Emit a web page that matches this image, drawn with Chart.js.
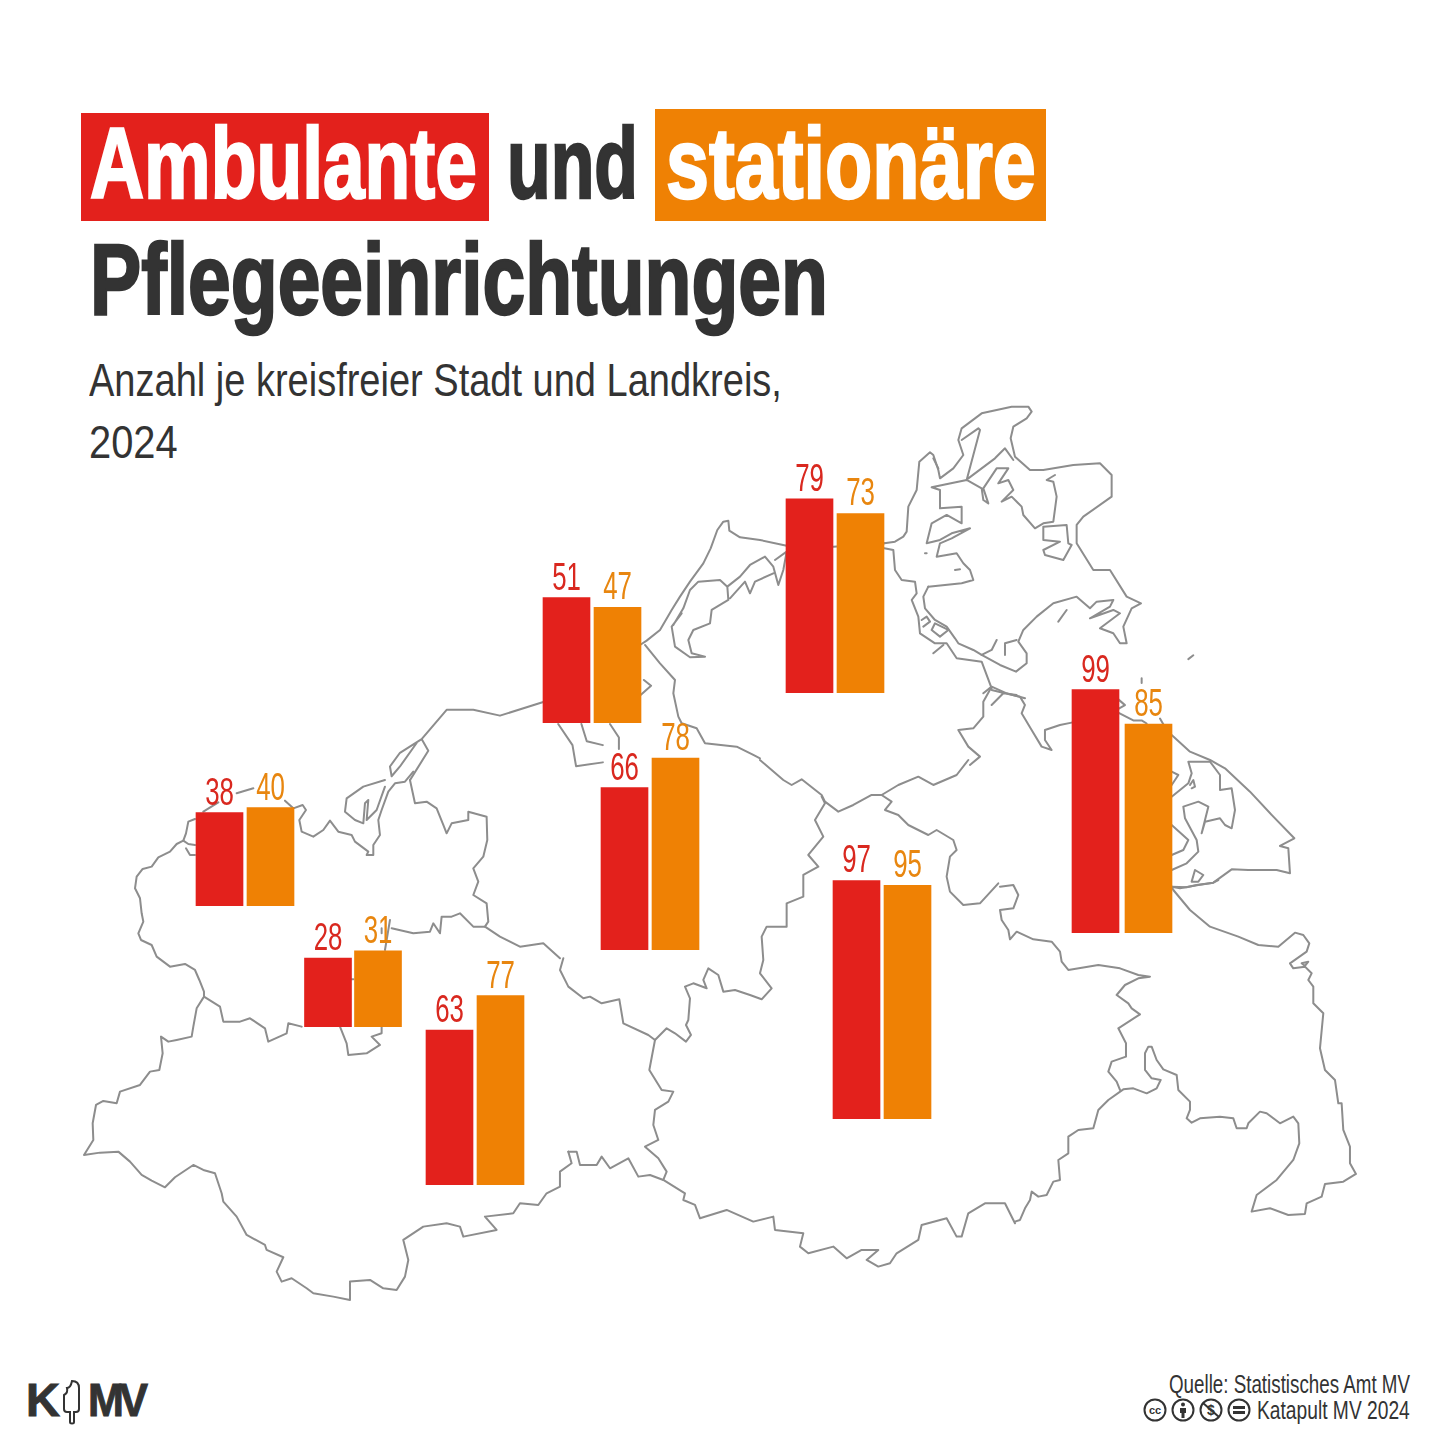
<!DOCTYPE html>
<html lang="de">
<head>
<meta charset="utf-8">
<title>Ambulante und stationäre Pflegeeinrichtungen</title>
<script src="https://cdn.jsdelivr.net/npm/chart.js@4"></script>
<style>
  html, body { margin: 0; background: #fff; }
  #page { position: relative; width: 1440px; height: 1440px; overflow: hidden; }
  #map { position: absolute; left: 0; top: 0; }
  #map path { fill: none; stroke: #8d8d8d; stroke-width: 2; stroke-linejoin: round; stroke-linecap: round; vector-effect: non-scaling-stroke; }
  canvas { position: absolute; }
  .txt { position: absolute; white-space: nowrap; color: #333; font-family: "Liberation Sans", sans-serif; transform-origin: 0 0; line-height: 1; }
  .head { font-weight: 700; font-size: 101px; -webkit-text-stroke: 2.5px currentColor; }
  .sub { font-size: 47px; }
  .foot { font-size: 25px; }
  .box { position: absolute; }
</style>
</head>
<body>
<div id="page">
  <svg id="map" width="1440" height="1440" viewBox="0 0 1440 1440">
    <!-- Fischland-Darss, Kreisgrenze nach Süden -->
    <g transform="translate(640,400) scale(0.3333)">
      <path d="M0,735 L20,722 60,690 95,630 120,590 150,545 190,490 212,445 232,390 250,365 265,362 268,392 300,412 360,420 440,437 580,440 733,430"/>
      <path d="M100,675 L130,625 150,570 175,545 240,540 262,560 265,600 215,630 210,670 160,690 145,720 155,760 195,770 150,772 105,740 95,680 125,640 M262,560 L300,530 330,495 375,470 400,500 415,555 430,510 440,455 405,480 M270,595 L315,545 330,580 345,545 400,520"/>
      <path d="M15,735 L60,790 105,840 100,880 115,950 125,970 170,985 195,1030 290,1040 340,1065 360,1075"/>
      <path d="M1053,864 L1030,905 1030,950 1000,985 955,990 985,1040 1020,1070 990,1095"/>
      <path d="M1055,870 L1095,880 1140,890 1155,915 1145,940 1175,990 1205,1040 1235,1050 1215,1020 1215,990 1260,975 1295,968 M1055,915 L1090,880 1130,885"/>
    </g>
    <!-- Rügen, Stralsund, Greifswald -->
    <g transform="translate(880,400) scale(0.3333)">
      <path d="M13,430 L45,425 70,410 80,395 85,320 110,270 118,185 150,157 160,165 175,210 180,235 220,205 250,165 235,120 245,85 305,40 395,20 445,20 455,35 440,55 400,80 392,115 405,170 450,210 490,210 580,195 660,190 695,225 695,290 610,350 590,375 590,430 640,510 690,510 740,590 783,610 755,625 730,680 740,730 720,730 700,700 660,685 720,640 700,630 630,655 690,620 700,600 650,605 630,625 590,590 520,610 470,650 430,690 415,725 440,760 440,790 408,815 360,795 305,765 280,750 235,730 225,715 200,680 165,660 135,625 130,590 145,560"/>
      <path d="M13,445 L40,450 45,510 65,540 105,545 110,580 95,600 115,650 120,700 165,730 200,730 230,775 305,785 335,865"/>
      <path d="M125,660 L140,650 150,665 130,680 M155,690 L165,670 205,690 180,710 155,690 M160,760 L190,735 M310,880 L335,860 380,880 435,895"/>
      <path d="M145,560 L245,550 280,540 270,510 250,490 230,460 170,470 180,430 215,415 270,385 215,400 180,420 140,430 155,370 200,345 245,370 245,320 180,325 180,270 155,262 260,240 305,265 310,300 325,310 310,265 350,205 385,205 355,250 385,240 400,270 365,305 395,290 425,320 430,345 465,385 490,370 520,365 530,290 520,245 500,240 525,225"/>
      <path d="M260,240 L300,90 295,85 245,120 M400,180 L375,145 345,175 265,235"/>
      <path d="M490,380 L560,375 565,430 575,435 550,480 495,465 490,450 540,425 490,420 490,380 M135,460 L140,460 M225,510 L240,508 M535,665 L560,630 M305,765 L335,750 350,720 M375,765 L375,730 410,720 M160,175 L175,205"/>
    </g>
    <!-- Usedom -->
    <g transform="translate(1160,700) scale(0.3333)">
      <path d="M35,105 L90,155 150,180 195,205 270,275 340,350 403,415 360,438 385,445 390,520 350,510 265,510 215,508 160,548 115,555 60,565 35,560"/>
      <path d="M150,185 L85,185 95,220 85,250 35,290 M150,185 L180,225 180,270 215,265 225,330 215,385 195,375 180,355 135,365 125,400 145,320 115,305 70,320 75,355 110,420 115,455 80,490 35,510"/>
      <path d="M35,375 L85,420 70,450 35,465 M105,510 L130,525 115,545 95,545 105,510 M35,215 L55,225 35,255 M90,255 L100,240 105,260 95,265"/>
    </g>
    <g transform="translate(960,640) scale(0.3333,0.3831)">
      <path d="M685,50 L700,40 M545,100 L545,112 M475,155 L495,170 475,180 M476,190 L520,210 545,210 560,218 M600,205 L620,235"/>
    </g>
    <!-- Osten, Stettiner Haff -->
    <g transform="translate(1000,880) scale(0.3333)">
      <path d="M45,1025 L60,1020 75,985 90,960 95,935 115,950 140,945 160,905 180,900 175,840 205,820 205,770 235,750 280,745 295,690 325,660 370,628 400,625 440,640 470,625 482,600 455,595 435,570 435,520 445,500 455,500 470,540 490,568 530,585 535,630 570,665 570,690 560,715 575,728 600,715 660,710 700,715 710,745 740,745 745,730 780,695 800,700 840,730 880,710 895,730 898,790 880,840 830,900 770,945 755,995 810,985 865,1005 915,1002 920,970 965,950 975,912 1030,905 1068,882 1050,850 1050,800 1030,750 1025,670 1015,670 1005,600 975,570 960,505 970,400 940,370 940,320 925,300 935,280 915,260 880,265 870,250 920,215 928,190 910,165 885,158 835,200 775,195 715,170 630,140 570,90 520,30 515,20 560,22 590,15 640,8 655,0"/>
      <path d="M905,250 L925,245 915,258 905,250"/>
      <path d="M0,20 L40,15 55,45 40,85 0,90 5,120 25,150 30,178 50,155 100,178 155,185 180,215 185,245 205,270 295,255 360,265 415,285 450,290 415,295 375,315 350,345 385,370 395,385 420,403 355,445 378,490 378,530 335,545 325,575 350,605 360,630"/>
    </g>
    <!-- Mitte, Seenplatte -->
    <g transform="translate(560,760) scale(0.3333)">
      <path d="M600,0 L670,60 695,75 725,58 785,105 795,125 835,155 880,135 935,105 965,105 1015,75 1075,50 1120,75 1190,45 1225,0"/>
      <path d="M965,105 L995,125 975,150 1015,165 1045,195 1105,225 1130,210 1180,240 1190,270 1170,290 1160,350 1170,395 1210,435 1260,430 1315,370"/>
      <path d="M785,110 L795,130 765,180 790,230 745,285 775,320 730,345 730,410 680,430 680,500 620,500 605,530 610,600 600,640 635,685 605,718 570,705 525,690 490,695 475,645 445,625 430,660 440,685 400,670 375,680 390,715 385,780 378,795 393,825 378,845 345,820 320,805 285,840 265,825 190,790 178,718 125,730 90,710 70,715 25,680 0,630 10,595"/>
      <path d="M285,840 L268,930 305,990 340,995 325,1025 285,1050 280,1095 295,1140 255,1160 295,1195 320,1235 310,1260"/>
      <path d="M25,1175 L50,1175 60,1215 110,1215 125,1190 150,1225 205,1195 235,1250 270,1245 310,1260 375,1300 370,1320 405,1335 420,1375 500,1350 580,1385 640,1370 645,1410 730,1420 720,1460 745,1480 820,1460 860,1495 905,1470 955,1470 920,1500 955,1520 990,1510 1010,1480 1075,1440 1085,1395 1160,1375 1190,1430 1205,1430 1225,1360 1275,1330 1335,1330 1365,1390"/>
    </g>
    <g transform="translate(460,680) scale(0.3571,0.3831)">
      <path d="M275,115 L315,170 325,225 400,215 M340,115 L355,160 400,170 M420,115 L445,150 445,180 M505,40 L535,15 515,0"/>
    </g>
    <!-- Westen -->
    <g transform="translate(70,700) scale(0.3333,0.3910)">
      <path d="M1500,10 L1420,5 1290,40 1210,25 1130,25 1055,100 1075,130 1020,205 M1055,100 L990,135 960,170 965,195 990,170 1040,110"/>
    </g>
    <g transform="translate(80,770) scale(0.3333)">
      <path d="M345,147 L325,155 318,190 310,212 290,222 270,245 235,262 215,290 188,297 170,320 165,355 180,385 185,430 190,455 175,490 183,510 215,525 230,560 270,590 315,582 345,600 358,630 372,665 372,680 350,715 340,770 335,800 290,810 265,815 243,800 248,850 238,900 210,905 180,945 120,965 110,1000 70,993 48,1005 38,1060 40,1110 12,1155 60,1148 115,1145 150,1175 185,1215 215,1232 255,1252 285,1222 340,1185 370,1200 405,1210 425,1270 430,1295 470,1340 500,1395 555,1425 560,1440 610,1462 590,1505 605,1535 635,1525 680,1555 700,1570 760,1580 810,1590 810,1535 870,1530 910,1555 950,1560 975,1520 985,1470 970,1410 1030,1370 1100,1360 1140,1370 1150,1400 1250,1380 1215,1340 1300,1330 1320,1300 1375,1305 1400,1270 1440,1250 1440,1205 1475,1180 1465,1145"/>
      <path d="M310,212 L325,222 345,225 M318,235 L330,255 345,255"/>
      <path d="M915,30 L850,50 800,85 795,125 825,150 850,160 855,100 865,90 860,150 890,120 915,50"/>
      <path d="M640,115 L668,105 678,120 658,150 665,185 700,200 730,180 750,152 775,185 815,195 825,215 865,245 860,255 880,255 880,225 900,195 895,150 905,120 925,65 945,40 975,35 1000,5"/>
      <path d="M370,125 L415,97 M470,70 L520,55 M615,92 L640,115"/>
      <path d="M990,30 L1005,100 1040,95 1070,115 1090,165 1100,190 1115,160 1165,150 1165,125 1220,140 1222,210 1210,260 1180,295 1195,335 1180,375 1220,400 1225,455 1215,470 1260,500 1320,530 1390,520 1440,565"/>
      <path d="M372,680 L420,710 430,755 480,755 510,745 555,775 565,815 620,790 625,760 665,770 M780,770 L800,820 805,855 860,850 900,825 875,800 905,790 905,770"/>
      <path d="M935,475 L1000,490 1050,485 1060,460 1080,490 1085,440 1115,440 1140,430 1180,470 1215,470 M915,540 L930,450 M905,475 L905,490 M810,628 L820,628"/>
    </g>
  </svg>

  <div class="box" style="left:81px;top:113px;width:408px;height:108px;background:#e3211c"></div>
  <div class="box" style="left:655px;top:109px;width:391px;height:112px;background:#ef8104"></div>
  <div class="txt head" id="t1" style="left:90px;top:113px;color:#fff">Ambulante</div>
  <div class="txt head" id="t2" style="left:507px;top:113px">und</div>
  <div class="txt head" id="t3" style="left:666px;top:113px;color:#fff">stationäre</div>
  <div class="txt head" id="t4" style="left:90px;top:229px">Pflegeeinrichtungen</div>
  <div class="txt sub" id="s1" style="left:89px;top:356px">Anzahl je kreisfreier Stadt und Landkreis,</div>
  <div class="txt sub" id="s2" style="left:89px;top:418px">2024</div>

  <div class="txt" style="left:26px;top:1376px;font-weight:700;font-size:47px;-webkit-text-stroke:1px #333">K</div>
  <div class="txt" id="logoMv" style="left:88px;top:1376px;font-weight:700;font-size:47px;letter-spacing:-5px;-webkit-text-stroke:1px #333">MV</div>
  <svg class="box" style="left:60px;top:1378px" width="24" height="48" viewBox="0 0 24 48">
    <path d="M12,3 C16,3 19,5 19,10 L19,31 C19,33 18,34 16,34 L14,34 L14,44 C14,46 10,46 10,44 L10,34 L7,34 C5,34 4,33 4,31 L4,17 C6,16 8,14 7,10 C9,10 11,8 12,3 Z" fill="#fff" stroke="#333" stroke-width="2"/>
  </svg>

  <div class="txt foot" id="f1" style="left:1169px;top:1372px">Quelle: Statistisches Amt MV</div>
  <div class="txt foot" id="f2" style="left:1257px;top:1398px">Katapult MV 2024</div>
  <svg class="box" style="left:1142px;top:1398px" width="110" height="24" viewBox="0 0 110 24" fill="none" stroke="#333" stroke-width="2">
    <circle cx="13" cy="12" r="10.5"/><circle cx="41" cy="12" r="10.5"/><circle cx="69" cy="12" r="10.5"/><circle cx="97" cy="12" r="10.5"/>
    <text x="13" y="16" font-family="Liberation Sans" font-weight="700" font-size="11" text-anchor="middle" fill="#333" stroke="none">cc</text>
    <circle cx="41" cy="6.5" r="2" fill="#333" stroke="none"/><path d="M38,10 h6 v5 h-1.5 v5 h-3 v-5 h-1.5 z" fill="#333" stroke="none"/>
    <text x="69" y="17" font-family="Liberation Sans" font-weight="700" font-size="14" text-anchor="middle" fill="#333" stroke="none">$</text><path d="M61,5 L77,19"/>
    <path d="M91,9.5 h12 M91,14.5 h12" stroke-width="3"/>
  </svg>
</div>

<script>
// Werte je Kreis, Reihenfolge wie in districts
const districts = ['Nordwestmecklenburg', 'Schwerin', 'Ludwigslust-Parchim', 'Rostock', 'Landkreis Rostock', 'Vorpommern-Rügen', 'Mecklenburgische Seenplatte', 'Vorpommern-Greifswald'];
const seriesNames = ['Ambulant', 'Stationär'];
const ambulant = [38, 28, 63, 51, 66, 79, 97, 99];
const stationaer = [40, 31, 77, 47, 78, 73, 95, 85];

// where each small chart sits on the map
const chartLeft = [196, 304, 426, 543, 601, 786, 833, 1072];
const chartBottom = [906, 1027, 1185, 723, 950, 693, 1119, 933];
const chartPitch = [51, 50, 51, 51, 51, 51, 51, 53];

const barWidth = 47;
const chartHeight = 300;
const yMax = 122;
const colors = ['#e3211c', '#ef8104'];
const labelColors = ['#d9281f', '#e8860f'];

// value above each bar, condensed like the rest of the type
const valueLabels = {
  id: 'valueLabels',
  afterDatasetsDraw(chart) {
    const ctx = chart.ctx;
    const bars = chart.getDatasetMeta(0).data;
    bars.forEach((bar, i) => {
      ctx.save();
      ctx.translate(bar.x, bar.y - 8);
      ctx.scale(0.68, 1);
      ctx.font = '38px "Liberation Sans"';
      ctx.textAlign = 'center';
      ctx.textBaseline = 'alphabetic';
      ctx.fillStyle = labelColors[i];
      ctx.fillText(chart.data.datasets[0].data[i], 0, 0);
      ctx.restore();
    });
  }
};

districts.forEach((name, i) => {
  const pitch = chartPitch[i];
  const canvas = document.createElement('canvas');
  canvas.width = pitch * 2;
  canvas.height = chartHeight;
  canvas.style.left = (chartLeft[i] - (pitch - barWidth) / 2) + 'px';
  canvas.style.top = (chartBottom[i] - chartHeight) + 'px';
  canvas.setAttribute('aria-label', name);
  document.getElementById('page').appendChild(canvas);

  new Chart(canvas, {
    type: 'bar',
    data: {
      labels: seriesNames,
      datasets: [{
        label: name,
        data: [ambulant[i], stationaer[i]],
        backgroundColor: colors,
        barThickness: barWidth
      }]
    },
    options: {
      responsive: false,
      animation: false,
      layout: { padding: 0 },
      plugins: { legend: { display: false }, tooltip: { enabled: false } },
      scales: {
        x: { display: false },
        y: { display: false, min: 0, max: yMax }
      }
    },
    plugins: [valueLabels]
  });
});

// squeeze each text to the width it has in the original
const fit = { t1: 387, t2: 131, t3: 370, t4: 738, s1: 693, s2: 89, f1: 241, f2: 153, logoMv: 56 };
Object.keys(fit).forEach(id => {
  const el = document.getElementById(id);
  el.style.transform = 'scaleX(' + fit[id] / el.offsetWidth + ')';
});
</script>
</body>
</html>
